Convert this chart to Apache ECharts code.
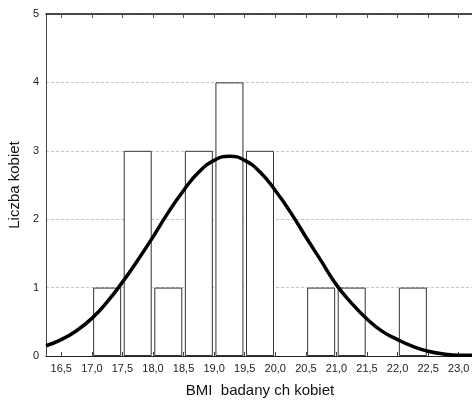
<!DOCTYPE html>
<html>
<head>
<meta charset="utf-8">
<script src="https://cdn.jsdelivr.net/npm/echarts@6/dist/echarts.min.js"></script>
<style>
html,body{margin:0;padding:0;background:#fff;}
#main{width:472px;height:401px;}
</style>
</head>
<body>
<div id="main"></div>
<script>
// histogram bins (midpoints) and counts
var binMid = [17.25, 17.75, 18.25, 18.75, 19.25, 19.75, 20.75, 21.25, 22.25];
var binCount = [1, 3, 1, 3, 4, 3, 1, 1, 1];

// fitted curve
var curveX = [16.25, 16.5, 16.75, 17.0, 17.25, 17.5, 17.75, 18.0, 18.25, 18.5, 18.75, 19.0, 19.25,
	19.5, 19.75, 20.0, 20.25, 20.5, 20.75, 21.0, 21.25, 21.5, 21.75, 22.0, 22.25, 22.5, 22.75, 23.0, 23.25];
var curveY = [0.15, 0.24, 0.37, 0.55, 0.79, 1.08, 1.40, 1.74, 2.10, 2.42, 2.69, 2.86, 2.92,
	2.86, 2.69, 2.42, 2.10, 1.74, 1.39, 1.04, 0.77, 0.54, 0.36, 0.24, 0.14, 0.07, 0.03, 0.01, 0.01];

var xTicks = [16.5, 17.0, 17.5, 18.0, 18.5, 19.0, 19.5, 20.0, 20.5, 21.0, 21.5, 22.0, 22.5, 23.0];

var barData = [];
for (var i = 0; i < binMid.length; i++) {
	barData.push([binMid[i], binCount[i]]);
}
var lineData = [];
for (var j = 0; j < curveX.length; j++) {
	lineData.push([curveX[j], curveY[j]]);
}

var myChart = echarts.init(document.getElementById('main'));
var fontName = 'Liberation Sans, Arial, sans-serif';

var option = {
	animation: false,
	backgroundColor: '#fff',
	grid: {
		left: 46,
		top: 14,
		right: -2,
		bottom: 45,
		outerBoundsMode: 'none'
	},
	xAxis: [{
		type: 'value',
		min: 16.25,
		max: 23.25,
		name: 'BMI  badany ch kobiet',
		nameLocation: 'middle',
		nameGap: 27,
		nameTextStyle: { fontFamily: fontName, fontSize: 15, color: '#111' },
		axisLine: { show: true, lineStyle: { color: '#222', width: 1 } },
		axisTick: { show: true, inside: true, length: 4, customValues: xTicks, lineStyle: { color: '#444' } },
		axisLabel: {
			customValues: xTicks,
			fontFamily: fontName, fontSize: 11, color: '#222', margin: 7,
			formatter: function (v) { return v.toFixed(1).replace('.', ','); }
		},
		splitLine: { show: false }
	}, {
		type: 'value',
		position: 'top',
		min: 16.25,
		max: 23.25,
		axisLine: { show: true, lineStyle: { color: '#111', width: 1.5 } },
		axisTick: { show: true, inside: true, length: 4, customValues: xTicks, lineStyle: { color: '#555' } },
		axisLabel: { show: false },
		splitLine: { show: false }
	}],
	yAxis: {
		type: 'value',
		min: 0,
		max: 5,
		interval: 1,
		name: 'Liczba kobiet',
		nameLocation: 'middle',
		nameGap: 24,
		nameRotate: 90,
		nameTextStyle: { fontFamily: fontName, fontSize: 15, color: '#111' },
		axisLine: { show: true, lineStyle: { color: '#444', width: 1 } },
		axisTick: { show: false },
		axisLabel: { fontFamily: fontName, fontSize: 11, color: '#222', margin: 7 },
		splitLine: { show: true, lineStyle: { color: '#c4c4c4', type: [3, 2], width: 1 } }
	},
	series: [{
		type: 'bar',
		data: barData,
		barWidth: 28,
		itemStyle: { color: '#fff', borderColor: '#333', borderWidth: 1 },
		z: 2
	}, {
		type: 'line',
		data: lineData,
		smooth: true,
		showSymbol: false,
		lineStyle: { color: '#000', width: 3.5 },
		z: 5
	}]
};
myChart.setOption(option);
</script>
</body>
</html>
